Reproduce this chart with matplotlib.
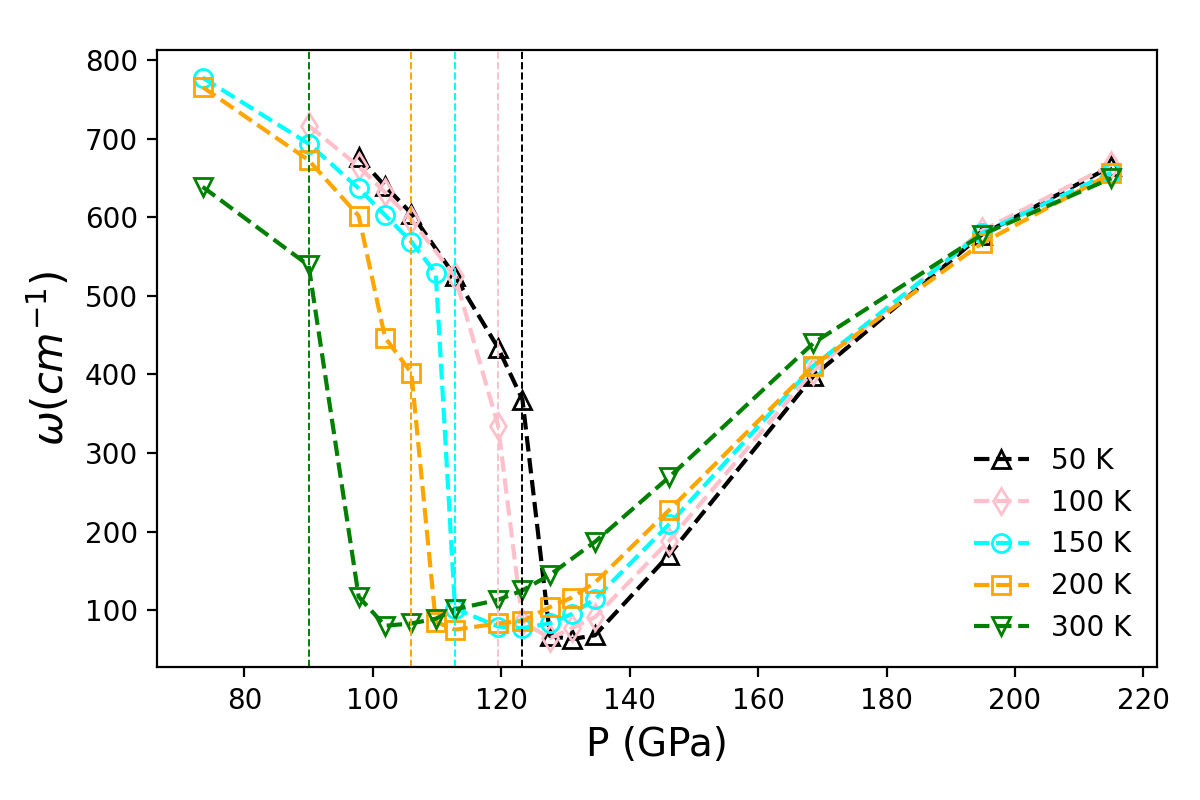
import matplotlib
matplotlib.use("Agg")
import matplotlib.pyplot as plt

labels = ["50 K", "100 K", "150 K", "200 K", "300 K"]
colors = ["black", "pink", "cyan", "orange", "green"]
markers = ["^", "d", "o", "s", "v"]

p_50 = [97.8, 101.9, 106.0, 112.8, 119.5, 123.3, 127.6, 131.0, 134.6, 146.1, 168.6, 194.8, 215.0]
w_50 = [677, 640, 605, 525, 434, 368, 67, 63, 68, 170, 398, 578, 665]

p_100 = [90.0, 97.8, 101.9, 106.0, 112.8, 119.5, 123.3, 127.6, 131.0, 134.6, 146.1, 168.6, 194.8, 215.0]
w_100 = [717, 665, 632, 597, 525, 335, 85, 64, 77, 91, 188, 405, 583, 667]

p_150 = [73.5, 90.0, 97.8, 101.9, 106.0, 109.8, 112.8, 119.5, 123.3, 127.6, 131.0, 134.6, 146.1, 168.6, 194.8, 215.0]
w_150 = [778, 694, 637, 603, 569, 529, 102, 79, 77, 83, 95, 114, 209, 411, 580, 657]

p_200 = [73.5, 90.0, 97.8, 101.9, 106.0, 109.8, 112.8, 119.5, 123.3, 127.6, 131.0, 134.6, 146.1, 168.6, 194.8, 215.0]
w_200 = [766, 673, 602, 447, 402, 85, 75, 83, 86, 104, 116, 135, 227, 411, 567, 656]

p_300 = [73.5, 90.0, 97.8, 101.9, 106.0, 109.8, 112.8, 119.5, 123.3, 127.6, 134.6, 146.1, 168.6, 194.8, 215.0]
w_300 = [639, 539, 117, 80, 83, 89, 101, 113, 125, 145, 187, 269, 440, 578, 650]

transition_p = [123.3, 119.5, 112.8, 106.0, 90.0]

series = [(p_50, w_50), (p_100, w_100), (p_150, w_150), (p_200, w_200), (p_300, w_300)]

fig = plt.figure(figsize=(6, 4), dpi=200)
ax = fig.add_axes([0.131, 0.166, 0.833, 0.772])

for (p, w), c, m, lab in zip(series, colors, markers, labels):
    ax.plot(p, w, linestyle="--", color=c, marker=m, markerfacecolor="none",
            markeredgecolor=c, markersize=6.5, markeredgewidth=1.0, linewidth=1.5, label=lab)

for xv, c in zip(transition_p, colors):
    ax.axvline(xv, color=c, linestyle="--", linewidth=0.7)

ax.set_xlabel("P (GPa)", fontsize=14)
ax.set_ylabel(r"$\omega(cm^{-1})$", fontsize=15)
ax.tick_params(labelsize=10)
ax.legend(loc="lower right", frameon=False, fontsize=10)

fig.savefig("out.png", dpi=200)
